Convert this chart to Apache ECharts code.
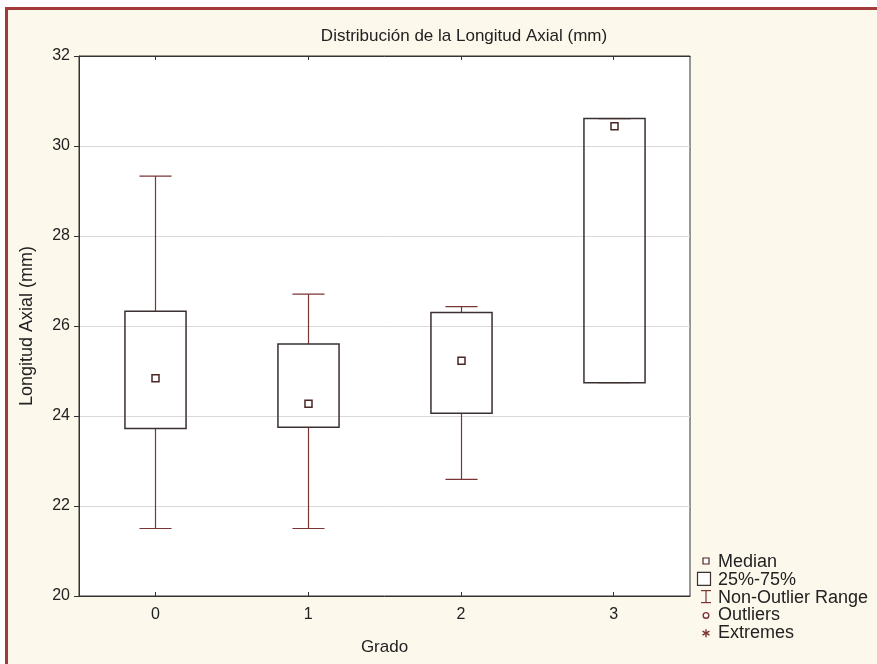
<!DOCTYPE html>
<html>
<head>
<meta charset="utf-8">
<script src="https://cdn.jsdelivr.net/npm/echarts@6/dist/echarts.min.js"></script>
<style>
html,body{margin:0;padding:0;background:#fff;}
#c{width:877px;height:664px;}
</style>
</head>
<body>
<div id="c"></div>
<script>
const categories = ['0', '1', '2', '3'];
const mins    = [21.50, 21.50, 22.59, 24.74];
const q1s     = [23.72, 23.75, 24.06, 24.74];
const medians = [24.84, 24.27, 25.23, 30.44];
const q3s     = [26.33, 25.60, 26.30, 30.61];
const maxs    = [29.33, 26.71, 26.43, 30.61];
const yTicks  = [20, 22, 24, 26, 28, 30, 32];

const titleText = 'Distribución de la Longitud Axial (mm)';
const legendItems = ['Median', '25%-75%', 'Non-Outlier Range', 'Outliers', 'Extremes'];

const boxData = categories.map((c, i) => [i, mins[i], q1s[i], medians[i], q3s[i], maxs[i]]);

const FONT = 'Liberation Sans, Arial, sans-serif';
const WHISK = '#7a3434';
const BOXC = '#3a3030';

const chart = echarts.init(document.getElementById('c'), null, {renderer: 'canvas'});

function renderBox(params, api) {
  const x = api.value(0);
  const pMin = api.coord([x, api.value(1)]);
  const pQ1 = api.coord([x, api.value(2)]);
  const pMed = api.coord([x, api.value(3)]);
  const pQ3 = api.coord([x, api.value(4)]);
  const pMax = api.coord([x, api.value(5)]);
  const band = api.size([1, 0])[0];
  const bw = band * 0.40;
  const cw = band * 0.21;
  const cx = Math.round(pMed[0]) + 0.5;
  const children = [];
  const ws = {stroke: WHISK, lineWidth: 1.2, fill: null};
  children.push({type: 'line', shape: {x1: cx, y1: pMax[1], x2: cx, y2: pQ3[1]}, style: ws});
  children.push({type: 'line', shape: {x1: cx, y1: pQ1[1], x2: cx, y2: pMin[1]}, style: ws});
  children.push({type: 'line', shape: {x1: cx - cw / 2, y1: pMax[1], x2: cx + cw / 2, y2: pMax[1]}, style: ws});
  children.push({type: 'line', shape: {x1: cx - cw / 2, y1: pMin[1], x2: cx + cw / 2, y2: pMin[1]}, style: ws});
  children.push({type: 'rect', shape: {x: cx - bw / 2, y: pQ3[1], width: bw, height: pQ1[1] - pQ3[1]},
    style: {stroke: BOXC, lineWidth: 1.5, fill: null}});
  children.push({type: 'rect', shape: {x: cx - 3.5, y: pMed[1] - 3.5, width: 7, height: 7},
    style: {stroke: '#4a2626', lineWidth: 1.5, fill: '#fff'}});
  return {type: 'group', children: children};
}

// legend graphics
const LX = 706, LY0 = 561, LDY = 17.8, TX = 718;
const legendGraphics = [];
legendGraphics.push({type: 'rect', shape: {x: LX - 3, y: LY0 - 3, width: 6, height: 6}, style: {stroke: '#4a2626', lineWidth: 1.2, fill: '#fff'}});
legendGraphics.push({type: 'rect', shape: {x: 697.5, y: LY0 + LDY - 6.5, width: 13, height: 13}, style: {stroke: BOXC, lineWidth: 1.2, fill: '#fff'}});
const iy = LY0 + 2 * LDY;
legendGraphics.push({type: 'line', shape: {x1: LX, y1: iy - 6, x2: LX, y2: iy + 6}, style: {stroke: WHISK, lineWidth: 1.2}});
legendGraphics.push({type: 'line', shape: {x1: LX - 5, y1: iy - 6, x2: LX + 5, y2: iy - 6}, style: {stroke: WHISK, lineWidth: 1.2}});
legendGraphics.push({type: 'line', shape: {x1: LX - 5, y1: iy + 6, x2: LX + 5, y2: iy + 6}, style: {stroke: WHISK, lineWidth: 1.2}});
legendGraphics.push({type: 'circle', shape: {cx: LX, cy: LY0 + 3 * LDY + 1, r: 2.8}, style: {stroke: WHISK, lineWidth: 1.4, fill: '#fff'}});
const ay = LY0 + 4 * LDY + 1;
[[0, -4, 0, 4], [-3.5, -2, 3.5, 2], [-3.5, 2, 3.5, -2]].forEach(s => {
  legendGraphics.push({type: 'line', shape: {x1: LX + s[0], y1: ay + s[1], x2: LX + s[2], y2: ay + s[3]}, style: {stroke: WHISK, lineWidth: 1.4}});
});
legendItems.forEach((t, i) => {
  legendGraphics.push({type: 'text', style: {text: t, x: TX, y: LY0 + i * LDY + 1, font: '18px ' + FONT, fill: '#222', textAlign: 'left', textVerticalAlign: 'middle'}});
});

const option = {
  backgroundColor: '#fdf8ec',
  animation: false,
  title: {
    text: titleText, left: 459, top: 23, textAlign: 'center',
    textStyle: {fontFamily: FONT, fontSize: 17, fontWeight: 'normal', color: '#222'}
  },
  grid: {left: 79, right: 187, top: 56, bottom: 68, show: true, backgroundColor: '#fff', borderColor: '#333', borderWidth: 1},
  xAxis: [{
    type: 'category', data: categories, position: 'bottom',
    name: 'Grado', nameLocation: 'middle', nameGap: 43,
    nameTextStyle: {fontFamily: FONT, fontSize: 17, color: '#222'},
    axisLine: {show: true, lineStyle: {color: '#333'}},
    axisTick: {show: true, inside: true, alignWithLabel: true, length: 4, lineStyle: {color: '#333'}},
    axisLabel: {fontFamily: FONT, fontSize: 16, color: '#222', margin: 11},
    splitLine: {show: false}
  }, {
    type: 'category', data: categories, position: 'top',
    axisLine: {show: true, lineStyle: {color: '#333'}},
    axisTick: {show: true, inside: true, alignWithLabel: true, length: 4, lineStyle: {color: '#333'}},
    axisLabel: {show: false}, splitLine: {show: false}
  }],
  yAxis: {
    type: 'value', min: yTicks[0], max: yTicks[yTicks.length - 1], interval: 2,
    name: 'Longitud Axial (mm)', nameLocation: 'middle', nameGap: 43,
    nameTextStyle: {fontFamily: FONT, fontSize: 18, color: '#222'},
    axisLine: {show: true, lineStyle: {color: '#333'}},
    axisTick: {show: true, inside: false, length: 5, lineStyle: {color: '#333'}},
    axisLabel: {fontFamily: FONT, fontSize: 16, color: '#222', margin: 9},
    splitLine: {show: true, lineStyle: {color: '#d9d9d9', width: 1}}
  },
  series: [{
    type: 'custom', xAxisIndex: 0, renderItem: renderBox,
    encode: {x: 0, y: [1, 2, 3, 4, 5]},
    data: boxData, z: 5
  }],
  graphic: [
    {type: 'rect', shape: {x: 5, y: 7, width: 3, height: 657}, style: {fill: '#a33a3a'}, z: 100},
    {type: 'rect', shape: {x: 5, y: 7, width: 872, height: 3}, style: {fill: '#a33a3a'}, z: 100},
    {type: 'rect', shape: {x: 0, y: 0, width: 877, height: 7}, style: {fill: '#ffffff'}, z: 99},
    {type: 'rect', shape: {x: 0, y: 0, width: 5, height: 664}, style: {fill: '#ffffff'}, z: 99},
    {type: 'group', children: legendGraphics, z: 100}
  ]
};
chart.setOption(option);
</script>
</body>
</html>
